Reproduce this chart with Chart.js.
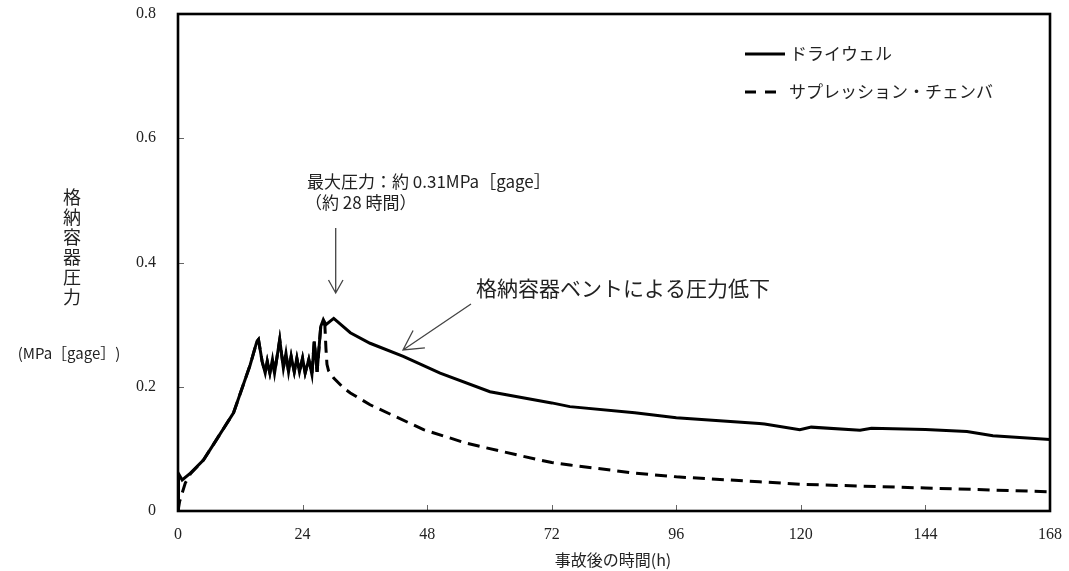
<!DOCTYPE html>
<html>
<head>
<meta charset="utf-8">
<script src="https://cdn.jsdelivr.net/npm/chart.js@4/dist/chart.umd.min.js"></script>
<style>
    html, body { margin: 0; padding: 0; background: #fff; }
    #wrap { width: 1069px; height: 571px; position: relative; }
</style>
</head>
<body>
<div id="wrap"><canvas id="pressureChart" width="1069" height="571"></canvas></div>
<script>
// --- Data ---
const xTicks = [0, 24, 48, 72, 96, 120, 144, 168];
const yTicks = [0, 0.2, 0.4, 0.6, 0.8];

// Drywell (hours, MPa[gage])
const dwTime = [0, 0.1, 0.8, 2.4, 4.9, 6.9, 10.7, 13.9, 15.2, 15.5, 16.2, 16.8, 17.2, 17.7, 18.2, 18.6,
    19.6, 20.3, 20.8, 21.3, 21.8, 22.4, 22.9, 23.4, 24.0, 24.5, 25.2, 25.8, 26.25, 26.8, 27.5, 28.0,
    28.5, 30.0, 33.2, 37, 43.4, 50.5, 60.1, 72, 75.5, 88, 96, 112, 113, 119.8, 122, 131.4, 133.6,
    144, 152, 157, 168];
const dwPressure = [0.0, 0.060, 0.050, 0.061, 0.082, 0.108, 0.158, 0.235, 0.273, 0.276, 0.241, 0.222, 0.241, 0.222, 0.244, 0.222,
    0.276, 0.230, 0.254, 0.224, 0.249, 0.224, 0.246, 0.224, 0.246, 0.222, 0.244, 0.220, 0.273, 0.224, 0.297, 0.308,
    0.300, 0.310, 0.287, 0.270, 0.249, 0.222, 0.192, 0.174, 0.168, 0.158, 0.150, 0.141, 0.140, 0.131, 0.135, 0.130, 0.133,
    0.131, 0.128, 0.121, 0.115];

// Suppression chamber (hours, MPa[gage]); runs under the drywell curve until the vent
const scTime = [0, 0.3, 1.4, 2.4, 4.9, 6.9, 10.7, 13.9, 15.2, 15.5, 16.2, 16.8, 17.2, 17.7, 18.2, 18.6,
    19.6, 20.3, 20.8, 21.3, 21.8, 22.4, 22.9, 23.4, 24.0, 24.5, 25.2, 25.8, 26.25, 26.8, 27.5, 28.0,
    28.3, 28.5, 28.7, 29.0, 30, 31.9, 33.2, 37, 47.3, 55.6, 66.5, 72, 75.5, 88, 96, 112, 120, 144, 168];
const scPressure = [0.0, 0.015, 0.045, 0.060, 0.082, 0.108, 0.158, 0.235, 0.273, 0.276, 0.241, 0.222, 0.241, 0.222, 0.244, 0.222,
    0.276, 0.230, 0.254, 0.224, 0.249, 0.224, 0.246, 0.224, 0.246, 0.222, 0.244, 0.220, 0.273, 0.224, 0.297, 0.305,
    0.298, 0.262, 0.236, 0.226, 0.214, 0.198, 0.190, 0.171, 0.131, 0.109, 0.088, 0.078, 0.074, 0.061, 0.055, 0.047, 0.043, 0.037, 0.031];

const seriesNames = ['ドライウェル', 'サプレッション・チェンバ'];

const JP = '"Noto Sans CJK JP", sans-serif';
const NUM = '"Liberation Serif", "DejaVu Serif", serif';

function toPoints(xs, ys) {
    return xs.map((x, i) => ({ x: x, y: ys[i] }));
}

// --- Custom drawing: frame, inward ticks, legend, annotations ---
const decorPlugin = {
    id: 'decor',
    afterDatasetsDraw(chart) {
        const { ctx, chartArea: a, scales } = chart;
        ctx.save();
        // inward ticks
        ctx.strokeStyle = '#666';
        ctx.lineWidth = 1;
        ctx.beginPath();
        yTicks.forEach(v => {
            const y = Math.round(scales.y.getPixelForValue(v)) + 0.5;
            ctx.moveTo(a.left, y); ctx.lineTo(a.left + 6, y);
        });
        xTicks.forEach(v => {
            const x = Math.round(scales.x.getPixelForValue(v)) + 0.5;
            ctx.moveTo(x, a.bottom); ctx.lineTo(x, a.bottom - 6);
        });
        ctx.stroke();
        // frame
        ctx.strokeStyle = '#000';
        ctx.lineWidth = 2.6;
        ctx.strokeRect(a.left, a.top, a.right - a.left, a.bottom - a.top);
        ctx.restore();
    },
    afterDraw(chart) {
        const ctx = chart.ctx;
        ctx.save();
        ctx.fillStyle = '#222';
        ctx.textBaseline = 'middle';

        // y axis title, stacked vertically
        ctx.font = '18px ' + JP;
        ctx.textAlign = 'center';
        '格納容器圧力'.split('').forEach((ch, i) => ctx.fillText(ch, 72, 197 + i * 20));
        ctx.font = '15px ' + JP;
        ctx.fillText('(MPa［gage］)', 69, 353);

        // x axis title
        ctx.font = '16px ' + JP;
        ctx.fillText('事故後の時間(h)', 613, 560);

        // legend
        ctx.textAlign = 'left';
        ctx.font = '17px ' + JP;
        ctx.strokeStyle = '#000';
        ctx.lineWidth = 3;
        ctx.beginPath(); ctx.moveTo(745, 54); ctx.lineTo(785, 54); ctx.stroke();
        ctx.fillText(seriesNames[0], 790, 54);
        ctx.setLineDash([11, 9]);
        ctx.beginPath(); ctx.moveTo(745, 92); ctx.lineTo(777, 92); ctx.stroke();
        ctx.setLineDash([]);
        ctx.fillText(seriesNames[1], 789, 92);

        // peak annotation
        ctx.font = '17px ' + JP;
        ctx.fillText('最大圧力：約 0.31MPa［gage］', 307, 182);
        ctx.fillText('（約 28 時間）', 305, 203);

        ctx.strokeStyle = '#444';
        ctx.lineWidth = 1.3;
        ctx.beginPath();
        ctx.moveTo(335.7, 228); ctx.lineTo(335.7, 293);
        ctx.moveTo(328.5, 280); ctx.lineTo(335.7, 293); ctx.lineTo(343, 280);
        ctx.stroke();

        // vent annotation
        ctx.font = '21px ' + JP;
        ctx.fillText('格納容器ベントによる圧力低下', 476, 288);
        const tip = { x: 403, y: 350 }, tail = { x: 471, y: 304 };
        const ang = Math.atan2(tail.y - tip.y, tail.x - tip.x);
        const hl = 22, spread = 0.5;
        ctx.beginPath();
        ctx.moveTo(tail.x, tail.y); ctx.lineTo(tip.x, tip.y);
        ctx.moveTo(tip.x + hl * Math.cos(ang - spread), tip.y + hl * Math.sin(ang - spread));
        ctx.lineTo(tip.x, tip.y);
        ctx.lineTo(tip.x + hl * Math.cos(ang + spread), tip.y + hl * Math.sin(ang + spread));
        ctx.stroke();
        ctx.restore();
    }
};

const ctx = document.getElementById('pressureChart').getContext('2d');
new Chart(ctx, {
    type: 'line',
    data: {
        datasets: [
            {
                label: seriesNames[1],
                data: toPoints(scTime, scPressure),
                borderColor: '#000',
                borderWidth: 3,
                borderDash: [12, 7],
                pointRadius: 0,
                tension: 0,
                fill: false
            },
            {
                label: seriesNames[0],
                data: toPoints(dwTime, dwPressure),
                borderColor: '#000',
                borderWidth: 3,
                pointRadius: 0,
                tension: 0,
                fill: false
            }
        ]
    },
    options: {
        responsive: false,
        animation: false,
        devicePixelRatio: 1,
        layout: { padding: { top: 14, right: 19, left: 0, bottom: 0 } },
        plugins: {
            legend: { display: false },
            tooltip: { enabled: false }
        },
        scales: {
            x: {
                type: 'linear',
                min: 0,
                max: 168,
                afterBuildTicks: s => { s.ticks = xTicks.map(v => ({ value: v })); },
                afterFit: s => { s.height = 60; s.paddingLeft = 0; s.paddingRight = 0; },
                grid: { display: false },
                border: { display: false },
                ticks: {
                    padding: 6,
                    color: '#222',
                    font: { family: NUM, size: 16 },
                    maxRotation: 0,
                    callback: v => String(v)
                }
            },
            y: {
                min: 0,
                max: 0.8,
                afterBuildTicks: s => { s.ticks = yTicks.map(v => ({ value: v })); },
                afterFit: s => { s.width = 178; s.paddingTop = 0; s.paddingBottom = 0; },
                grid: { display: false },
                border: { display: false },
                ticks: {
                    padding: 14,
                    color: '#222',
                    font: { family: NUM, size: 16 },
                    callback: v => v === 0 ? '0' : v.toFixed(1)
                }
            }
        }
    },
    plugins: [decorPlugin]
});
</script>
</body>
</html>
